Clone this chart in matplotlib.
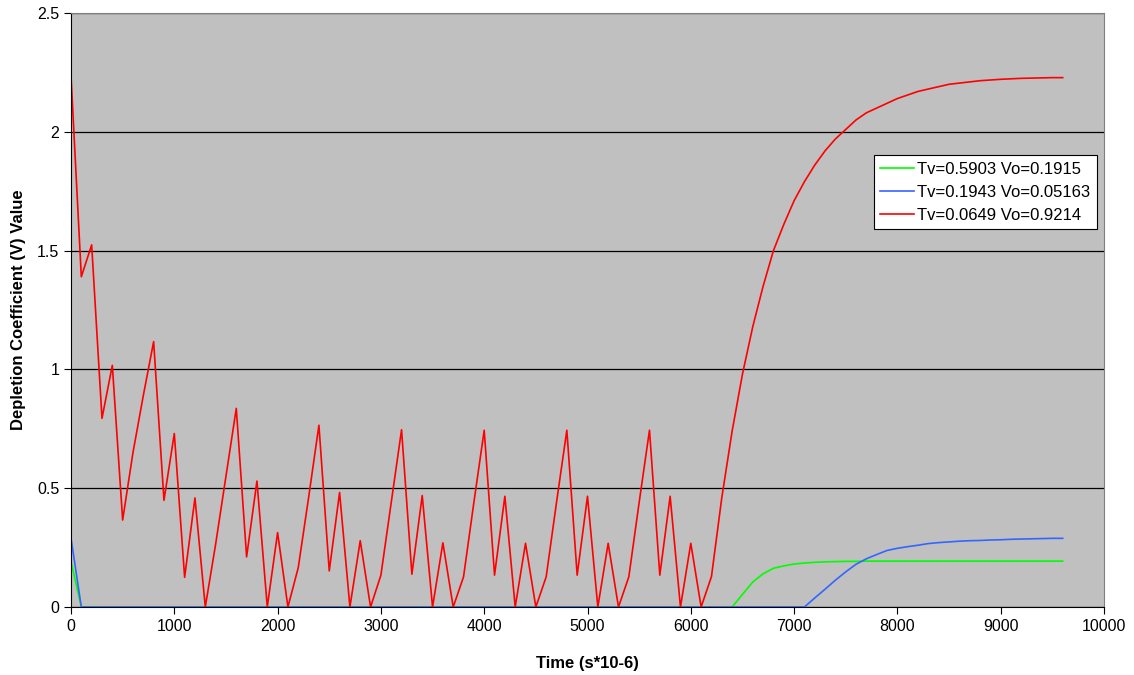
import numpy as np
import matplotlib.pyplot as plt

plt.rcParams['font.family'] = ['Liberation Sans', 'DejaVu Sans']

# time samples (s*10-6), every 100 units
time = np.arange(0, 9700, 100)

# Tv=0.5903 Vo=0.1915
green = [0.191, 0.0, 0.0, 0.0, 0.0, 0.0, 0.0, 0.0, 0.0, 0.0,
         0.0, 0.0, 0.0, 0.0, 0.0, 0.0, 0.0, 0.0, 0.0, 0.0,
         0.0, 0.0, 0.0, 0.0, 0.0, 0.0, 0.0, 0.0, 0.0, 0.0,
         0.0, 0.0, 0.0, 0.0, 0.0, 0.0, 0.0, 0.0, 0.0, 0.0,
         0.0, 0.0, 0.0, 0.0, 0.0, 0.0, 0.0, 0.0, 0.0, 0.0,
         0.0, 0.0, 0.0, 0.0, 0.0, 0.0, 0.0, 0.0, 0.0, 0.0,
         0.0, 0.0, 0.0, 0.0, 0.0, 0.053, 0.105, 0.14, 0.163, 0.173,
         0.181, 0.185, 0.188, 0.19, 0.191, 0.192, 0.192, 0.193, 0.193, 0.193,
         0.193, 0.193, 0.193, 0.193, 0.193, 0.193, 0.193, 0.193, 0.193, 0.193,
         0.193, 0.193, 0.193, 0.193, 0.193, 0.193, 0.193]

# Tv=0.1943 Vo=0.05163
blue = [0.29, 0.0, 0.0, 0.0, 0.0, 0.0, 0.0, 0.0, 0.0, 0.0,
        0.0, 0.0, 0.0, 0.0, 0.0, 0.0, 0.0, 0.0, 0.0, 0.0,
        0.0, 0.0, 0.0, 0.0, 0.0, 0.0, 0.0, 0.0, 0.0, 0.0,
        0.0, 0.0, 0.0, 0.0, 0.0, 0.0, 0.0, 0.0, 0.0, 0.0,
        0.0, 0.0, 0.0, 0.0, 0.0, 0.0, 0.0, 0.0, 0.0, 0.0,
        0.0, 0.0, 0.0, 0.0, 0.0, 0.0, 0.0, 0.0, 0.0, 0.0,
        0.0, 0.0, 0.0, 0.0, 0.0, 0.0, 0.0, 0.0, 0.0, 0.0,
        0.0, 0.0, 0.038, 0.075, 0.113, 0.148, 0.18, 0.203, 0.221, 0.238,
        0.247, 0.254, 0.26, 0.267, 0.271, 0.274, 0.277, 0.279, 0.28, 0.282,
        0.283, 0.285, 0.286, 0.287, 0.288, 0.289, 0.289]

# Tv=0.0649 Vo=0.9214
red = [2.236, 1.39, 1.524, 0.794, 1.017, 0.366, 0.65, 0.89, 1.117, 0.449,
       0.73, 0.125, 0.459, 0.0, 0.264, 0.55, 0.836, 0.211, 0.53, 0.0,
       0.313, 0.0, 0.166, 0.46, 0.765, 0.152, 0.482, 0.0, 0.279, 0.0,
       0.134, 0.44, 0.746, 0.138, 0.469, 0.0, 0.27, 0.0, 0.127, 0.44,
       0.744, 0.134, 0.466, 0.0, 0.268, 0.0, 0.127, 0.44, 0.744, 0.134,
       0.466, 0.0, 0.268, 0.0, 0.127, 0.44, 0.744, 0.134, 0.466, 0.0,
       0.268, 0.0, 0.128, 0.46, 0.74, 0.98, 1.18, 1.35, 1.50, 1.61,
       1.71, 1.79, 1.86, 1.92, 1.97, 2.01, 2.05, 2.08, 2.10, 2.12,
       2.14, 2.155, 2.17, 2.18, 2.19, 2.20, 2.205, 2.21, 2.215, 2.218,
       2.221, 2.223, 2.225, 2.226, 2.227, 2.228, 2.228]

labels = ["Tv=0.5903 Vo=0.1915", "Tv=0.1943 Vo=0.05163", "Tv=0.0649 Vo=0.9214"]

fig = plt.figure(figsize=(11.34, 6.75), dpi=100)
ax = fig.add_axes([71 / 1134, 1 - 607 / 675, (1104 - 71) / 1134, (607 - 13) / 675])
ax.set_facecolor("#C0C0C0")

ax.plot(time, green, color="#00FF00", lw=1.2, label=labels[0])
ax.plot(time, blue, color="#3366FF", lw=1.2, label=labels[1])
ax.plot(time, red, color="#FF0000", lw=1.2, label=labels[2])

ax.set_xlim(0, 10000)
ax.set_ylim(0, 2.5)
ax.set_xticks(np.arange(0, 10001, 1000))
ax.set_yticks([0, 0.5, 1, 1.5, 2, 2.5])
ax.set_yticklabels(["0", "0.5", "1", "1.5", "2", "2.5"])
ax.yaxis.grid(True, color="black", lw=0.9)
ax.set_axisbelow(True)

for side in ["top", "right"]:
    ax.spines[side].set_color("#808080")
for side in ["left", "bottom"]:
    ax.spines[side].set_color("black")
ax.tick_params(direction="out", length=5, labelsize=11.5, colors="black")

ax.set_xlabel("Time (s*10-6)", fontsize=12, fontweight="bold", labelpad=16)
ax.set_ylabel("Depletion Coefficient (V) Value", fontsize=12, fontweight="bold", labelpad=8)

leg = ax.legend(loc="upper left", bbox_to_anchor=(0.777, 0.761), fontsize=12,
                frameon=True, fancybox=False, framealpha=1, edgecolor="black",
                handlelength=2.0, borderpad=0.4, labelspacing=0.48, handletextpad=0.2,
                borderaxespad=0)
leg.get_frame().set_linewidth(0.8)

fig.savefig("out.png", dpi=100)
